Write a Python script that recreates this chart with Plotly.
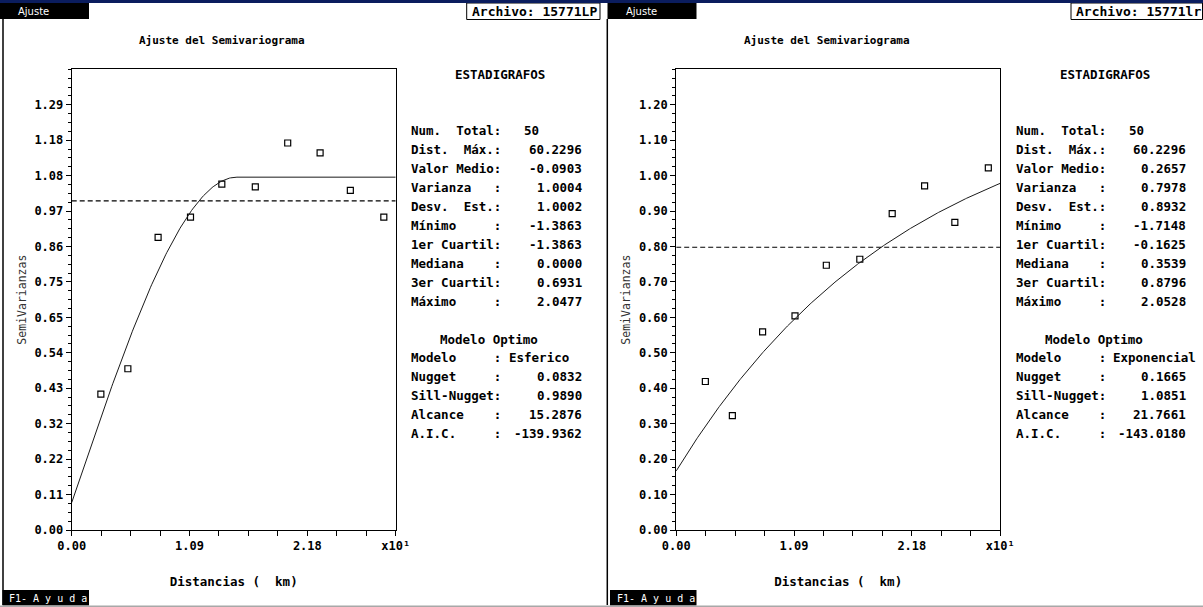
import numpy as np
import plotly.graph_objects as go

# ---------------- data ----------------
lag_dist = [0.27, 0.52, 0.80, 1.10, 1.39, 1.70, 2.00, 2.30, 2.58, 2.89]   # x10 km
semivar_lp = [0.413, 0.490, 0.889, 0.951, 1.051, 1.043, 1.176, 1.146, 1.032, 0.951]
semivar_lr = [0.419, 0.323, 0.559, 0.604, 0.747, 0.764, 0.893, 0.971, 0.868, 1.022]

stat_labels = ["Num.  Total:", "Dist.  Máx.:", "Valor Medio:", "Varianza   :", "Desv.  Est.:",
               "Mínimo     :", "1er Cuartil:", "Mediana    :", "3er Cuartil:", "Máximo     :"]
stats_lp = [50, 60.2296, -0.0903, 1.0004, 1.0002, -1.3863, -1.3863, 0.0000, 0.6931, 2.0477]
stats_lr = [50, 60.2296, 0.2657, 0.7978, 0.8932, -1.7148, -0.1625, 0.3539, 0.8796, 2.0528]

model_labels = ["Modelo     :", "Nugget     :", "Sill-Nugget:", "Alcance    :", "A.I.C.     :"]
model_lp = ["Esferico", 0.0832, 0.9890, 15.2876, -139.9362]
model_lr = ["Exponencial", 0.1665, 1.0851, 21.7661, -143.0180]

files = ["15771LP", "15771lr"]
x_title = "Distancias (  km)"
y_title = "SemiVarianzas"
x_scale_label = "x10\u00b9"
x_max = [3.0, 3.0]          # x10 km
y_max = [1.40, 1.30]

W, H = 1203, 607
MONO = "DejaVu Sans Mono"


def px(x):
    return x / W


def py(y):
    return 1 - y / H


def model_curve(kind, nugget, sill, alcance, h10):
    h = np.asarray(h10) * 10.0
    if kind == "Esferico":
        r = np.minimum(h / alcance, 1.0)
        return nugget + sill * (1.5 * r - 0.5 * r ** 3)
    return nugget + sill * (1 - np.exp(-h / alcance))


fig = go.Figure()
shapes = []
annotations = []

panels = [
    dict(off=0, pts=semivar_lp, stats=stats_lp, model=model_lp, file=files[0]),
    dict(off=604.5, pts=semivar_lr, stats=stats_lr, model=model_lr, file=files[1]),
]

for i, p in enumerate(panels):
    off = p["off"]
    xa = "x" if i == 0 else "x2"
    ya = "y" if i == 0 else "y2"
    xmax = x_max[i]
    ymax = y_max[i]
    ystep = ymax / 13
    xstep = xmax / 11

    fig.add_trace(go.Scatter(x=lag_dist, y=p["pts"], mode="markers", xaxis=xa, yaxis=ya,
                             marker=dict(symbol="square-open", size=6, color="black",
                                         line=dict(width=1.2, color="black"))))
    kind, nug, sill, alc, aic = p["model"]
    hx = np.linspace(0, xmax, 301)
    fig.add_trace(go.Scatter(x=hx, y=model_curve(kind, nug, sill, alc, hx), mode="lines",
                             xaxis=xa, yaxis=ya, line=dict(color="#1a1a1a", width=1)))
    var = p["stats"][3]
    fig.add_trace(go.Scatter(x=[0, xmax], y=[var, var], mode="lines", xaxis=xa, yaxis=ya,
                             line=dict(color="black", width=1.2, dash="5px,3px")))

    xticks = [k * xstep for k in range(12)]
    xtext = []
    for k in range(12):
        if k % 4 == 0:
            xtext.append(f"{xticks[k]:.2f}")
        elif k == 11:
            xtext.append(x_scale_label)
        else:
            xtext.append(" ")
    yticks = [k * ystep for k in range(13)]
    ytext = [f"{v:.2f}" for v in yticks]

    axis_common = dict(showline=True, mirror=True, linecolor="black", linewidth=1,
                       showgrid=False, zeroline=False, ticks="outside", tickcolor="black",
                       tickwidth=1, automargin=False,
                       tickfont=dict(family=MONO, size=12, color="black", weight="bold"))
    xkey = "xaxis" if i == 0 else "xaxis2"
    ykey = "yaxis" if i == 0 else "yaxis2"
    fig.update_layout(**{
        xkey: dict(domain=[px(71.7 + off), px(395.7 + off)], range=[0, xmax], anchor=ya,
                   tickmode="array", tickvals=xticks, ticktext=xtext, ticklen=5,
                   title=dict(text=x_title.replace(" ", "\u00a0"), standoff=24,
                              font=dict(family=MONO, size=12.5, color="black", weight="bold")),
                   **axis_common),
        ykey: dict(domain=[py(530), py(69.3)], range=[0, ymax], anchor=xa,
                   tickmode="array", tickvals=yticks, ticktext=ytext, ticklen=5,
                   minor=dict(tick0=0, dtick=ystep / 4, ticks="outside", ticklen=3,
                              tickcolor="black", showgrid=False),
                   title=dict(text=y_title, standoff=5,
                              font=dict(family=MONO, size=11.5, color="#333")),
                   **axis_common),
    })

    def txt(x, y, s, size=12.5, anchor="left", color="black", bold=True, family=MONO, angle=0):
        annotations.append(dict(x=px(x), y=py(y), xref="paper", yref="paper",
                                text=s.replace(" ", "\u00a0"), showarrow=False,
                                xanchor=anchor, yanchor="middle", textangle=angle,
                                font=dict(family=family, size=size, color=color,
                                          weight="bold" if bold else "normal")))

    txt(222 + off, 41, "Ajuste del Semivariograma", size=11, anchor="center")

    lx = 409 + off
    txt(lx + 91, 74, "ESTADIGRAFOS", anchor="center")
    for r, (lab, val) in enumerate(zip(stat_labels, p["stats"])):
        yy = 131 + r * 18.95
        txt(lx, yy, lab)
        if r == 0:
            txt(lx + 113, yy, f"{val:d}")
        else:
            txt(lx + 174.5, yy, f"{val:.4f}", anchor="right")
    txt(lx + 80, 339, "Modelo Optimo", anchor="center")
    for r, (lab, val) in enumerate(zip(model_labels, p["model"])):
        yy = 357.7 + r * 18.95
        txt(lx, yy, lab)
        if r == 0:
            txt(lx + 97.5, yy, val)
        else:
            txt(lx + 174.5, yy, f"{val:.4f}", anchor="right")

    def rect(x0, y0, x1, y1, fill, line=None, lw=0):
        shapes.append(dict(type="rect", xref="paper", yref="paper",
                           x0=px(x0), x1=px(x1), y0=py(y1), y1=py(y0),
                           fillcolor=fill, line=dict(color=line or fill, width=lw), layer="above"))

    hx0 = 0 if i == 0 else 607.5
    rect(hx0, 3, hx0 + 89, 19, "black")
    txt(hx0 + 16, 11, "Ajuste", size=10, color="white", bold=False, family="DejaVu Sans")
    rect(hx0 + 2.5, 590, hx0 + 89, 605.5, "black")
    txt(hx0 + 7, 598, "F1- A y u d a", size=10, color="white", bold=False, family=MONO)
    ax0 = 466.7 if i == 0 else 1071
    ax1 = 600 if i == 0 else 1202.5
    rect(ax0, 3, ax1, 19.5, "white", "black", 1)
    txt(ax0 + 3, 11.5, "Archivo: " + p["file"], size=13)
    bx = 3 if i == 0 else 607.3
    shapes.append(dict(type="line", xref="paper", yref="paper", x0=px(bx), x1=px(bx),
                       y0=py(605), y1=py(19), line=dict(color="black", width=1.5)))

shapes.append(dict(type="rect", xref="paper", yref="paper", x0=0, x1=1, y0=py(3), y1=1,
                   fillcolor="#0b1d5e", line=dict(width=0)))
shapes.append(dict(type="rect", xref="paper", yref="paper", x0=0, x1=1, y0=0, y1=py(605.5),
                   fillcolor="#a8a8a8", line=dict(width=0)))

fig.update_layout(width=W, height=H, autosize=False,
                  margin=dict(l=0, r=0, t=0, b=0, pad=0, autoexpand=False),
                  paper_bgcolor="white", plot_bgcolor="white", showlegend=False,
                  shapes=shapes, annotations=annotations)

fig.write_html("out.html")
